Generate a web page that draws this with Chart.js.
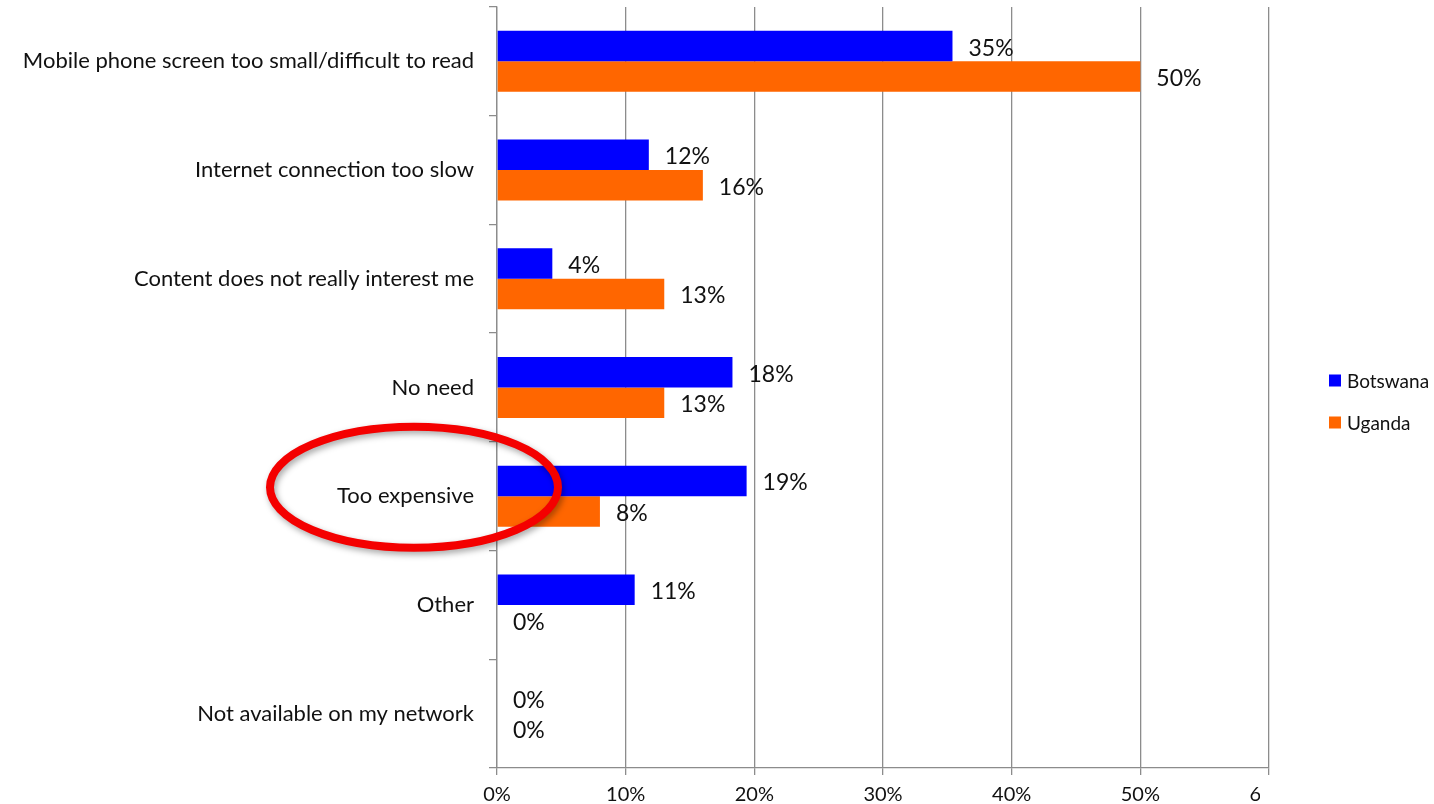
<!DOCTYPE html>
<html>
<head>
<meta charset="utf-8">
<script src="https://cdn.jsdelivr.net/npm/chart.js@4.4.1/dist/chart.umd.min.js"></script>
<style>
  html, body { margin: 0; padding: 0; background: #ffffff; }
  #wrap { width: 1434px; height: 804px; position: relative; }
</style>
</head>
<body>
<div id="wrap"><canvas id="c"></canvas></div>
<script>
const categories = [
  'Mobile phone screen too small/difficult to read',
  'Internet connection too slow',
  'Content does not really interest me',
  'No need',
  'Too expensive',
  'Other',
  'Not available on my network'
];
const seriesNames = ['Botswana', 'Uganda'];
const botswana = [35.4, 11.8, 4.3, 18.3, 19.4, 10.7, 0];
const uganda = [50, 16, 13, 13, 8, 0, 0];
const xTickValues = [0, 10, 20, 30, 40, 50, 60];
const highlightedCategory = 'Too expensive';

const FONT = 'Lato, "Open Sans", sans-serif';
const GRID = '#8c8c8c';

const valueLabels = {
  id: 'valueLabels',
  afterDatasetsDraw(chart) {
    const ctx = chart.ctx;
    ctx.save();
    ctx.font = '23px ' + FONT;
    ctx.fillStyle = '#111';
    ctx.textAlign = 'left';
    ctx.textBaseline = 'middle';
    chart.data.datasets.forEach((ds, i) => {
      const meta = chart.getDatasetMeta(i);
      meta.data.forEach((el, j) => {
        ctx.fillText(Math.round(ds.data[j]) + '%', el.x + 16, el.y + 2);
      });
    });
    ctx.restore();
  }
};

const clipCorner = {
  id: 'clipCorner',
  beforeDraw(chart) {
    const ctx = chart.ctx;
    const x = chart.scales.x.getPixelForValue(60) - 9;
    const yTop = chart.chartArea.bottom + 10;
    ctx.save();
    ctx.beginPath();
    ctx.rect(0, 0, chart.width, chart.height);
    ctx.rect(x, yTop, chart.width - x, chart.height - yTop);
    ctx.clip('evenodd');
  },
  afterDraw(chart) {
    chart.ctx.restore();
  }
};

const sideLegend = {
  id: 'sideLegend',
  afterDraw(chart) {
    const ctx = chart.ctx;
    const a = chart.chartArea;
    const x0 = a.right + 60;
    const yc = (a.top + a.bottom) / 2;
    ctx.save();
    ctx.font = '19px ' + FONT;
    ctx.textAlign = 'left';
    ctx.textBaseline = 'middle';
    chart.data.datasets.forEach((ds, i) => {
      const y = yc - 7 + i * 42;
      ctx.fillStyle = ds.backgroundColor;
      ctx.fillRect(x0, y - 6, 12, 12);
      ctx.fillStyle = '#111';
      ctx.fillText(ds.label, x0 + 18, y + 1);
    });
    ctx.restore();
  }
};

const ellipseMark = {
  id: 'ellipseMark',
  afterDraw(chart) {
    const ctx = chart.ctx;
    const idx = categories.indexOf(highlightedCategory);
    const cy = chart.scales.y.getPixelForValue(idx) - 9;
    const cx = chart.chartArea.left - 83;
    ctx.save();
    ctx.shadowColor = 'rgba(0,0,0,0.35)';
    ctx.shadowBlur = 6;
    ctx.shadowOffsetX = 2;
    ctx.shadowOffsetY = 3;
    ctx.strokeStyle = '#f40000';
    ctx.lineWidth = 8;
    ctx.beginPath();
    ctx.ellipse(cx, cy, 144, 60.5, 0, 0, Math.PI * 2);
    ctx.stroke();
    ctx.restore();
  }
};

new Chart(document.getElementById('c'), {
  type: 'bar',
  data: {
    labels: categories,
    datasets: [
      { label: seriesNames[0], data: botswana, backgroundColor: '#0000ff', borderWidth: 0 },
      { label: seriesNames[1], data: uganda, backgroundColor: '#ff6600', borderWidth: 0 }
    ]
  },
  options: {
    indexAxis: 'y',
    responsive: true,
    maintainAspectRatio: false,
    animation: false,
    devicePixelRatio: 1,
    layout: { padding: { top: 7, left: 0, right: 165, bottom: 0 } },
    datasets: { bar: { categoryPercentage: 0.561, barPercentage: 1.0 } },
    plugins: {
      legend: { display: false },
      tooltip: { enabled: false }
    },
    scales: {
      x: {
        min: 0,
        max: 60,
        afterBuildTicks(scale) { scale.ticks = xTickValues.map(v => ({ value: v })); },
        afterFit(scale) { scale.height = 36; scale.paddingLeft = 0; scale.paddingRight = 0; },
        ticks: {
          callback: v => v + '%',
          font: { family: FONT, size: 20 },
          color: '#111',
          padding: 8,
          maxRotation: 0
        },
        grid: { color: GRID, lineWidth: 1.3, tickLength: 7, drawTicks: true },
        border: { color: GRID, width: 1.3 }
      },
      y: {
        offset: true,
        afterFit(scale) { scale.width = 497; scale.paddingTop = 0; scale.paddingBottom = 0; },
        ticks: {
          font: { family: FONT, size: 22 },
          color: '#111',
          padding: 15
        },
        grid: { offset: true, drawOnChartArea: false, color: GRID, lineWidth: 1.3, tickLength: 8, drawTicks: true },
        border: { color: GRID, width: 1.3 }
      }
    }
  },
  plugins: [clipCorner, valueLabels, sideLegend, ellipseMark]
});
</script>
</body>
</html>
